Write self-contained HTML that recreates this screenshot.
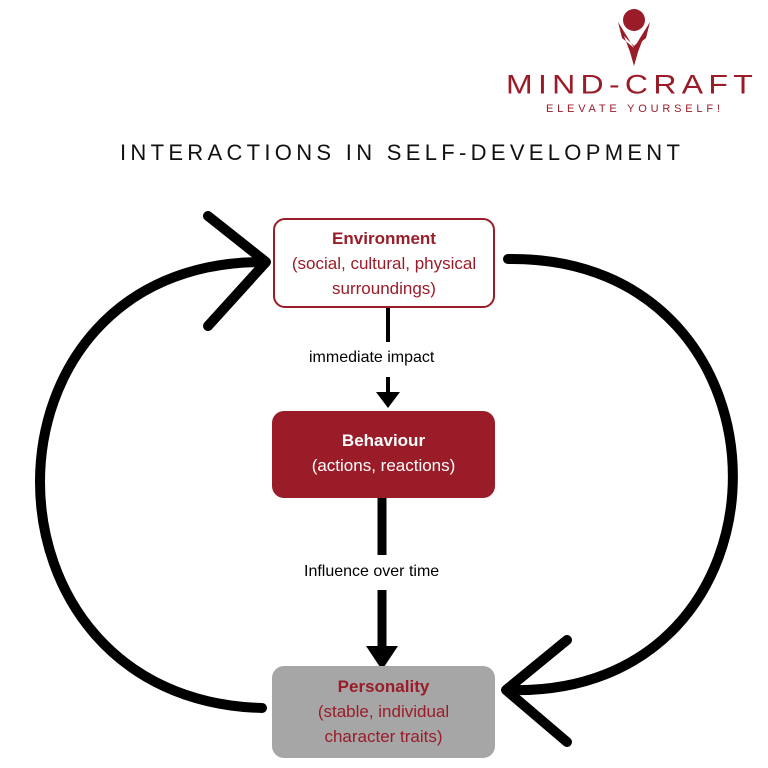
<!DOCTYPE html>
<html><head><meta charset="utf-8"><style>
body{margin:0;width:768px;height:768px;background:#fff;position:relative;overflow:hidden;font-family:"Liberation Sans",sans-serif}
.box{position:absolute;box-sizing:border-box;border-radius:12px;text-align:center;font-size:17px;line-height:25px}
.t{position:absolute;white-space:nowrap}
</style></head><body>
<svg width="768" height="768" style="position:absolute;left:0;top:0">
<g fill="#9a1c28">
<circle cx="634" cy="20" r="11"/>
<path d="M618 22 L622 38 L634 48 L628 38 Z M650 22 L646 38 L634 48 L640 38 Z M624 36 L634 46 L644 36 L638 52 L634 66 L630 52 Z"/>
</g>
<g stroke="#000" stroke-width="10" fill="none" stroke-linecap="round" stroke-linejoin="round">
<path d="M262 708 C -34 700 -34 262 262 262"/>
<path d="M208 216 L266 262 L208 326"/>
<path d="M508 259 C 808 255 808 700 507 690"/>
<path d="M567 640 L506 690 L567 742"/>
</g>
<g stroke="#000" fill="none">
<line x1="388" y1="307" x2="388" y2="342" stroke-width="4"/>
<line x1="388" y1="377" x2="388" y2="395" stroke-width="4"/>
<line x1="382" y1="497" x2="382" y2="555" stroke-width="9"/>
<line x1="382" y1="590" x2="382" y2="650" stroke-width="9"/>
</g>
<path d="M376 392 L400 392 L388 408 Z" fill="#000"/>
<path d="M366 646 L398 646 L382 670 Z" fill="#000"/>
</svg>
<div class="t" style="left:506px;top:66px;font-size:32px;color:#9a1c28;letter-spacing:5.3px;font-weight:300;transform:scaleY(0.85)">MIND-CRAFT</div>
<div class="t" style="left:546px;top:103px;font-size:11px;color:#9a1c28;letter-spacing:3.8px">ELEVATE YOURSELF!</div>
<div class="t" style="left:120px;top:140px;font-size:22px;letter-spacing:4.3px;color:#111">INTERACTIONS IN SELF-DEVELOPMENT</div>
<div class="box" style="left:273px;top:218px;width:222px;height:90px;border:2px solid #9a1c28;color:#9a1c28;padding-top:6px"><b>Environment</b><br>(social, cultural, physical<br>surroundings)</div>
<div class="t" style="left:309px;top:349px;font-size:16px">immediate impact</div>
<div class="box" style="left:272px;top:411px;width:223px;height:87px;background:#9a1c28;color:#fff;padding-top:17px"><b>Behaviour</b><br>(actions, reactions)</div>
<div class="t" style="left:304px;top:563px;font-size:16px">Influence over time</div>
<div class="box" style="left:272px;top:666px;width:223px;height:92px;background:#a6a6a6;color:#9a1c28;padding-top:8px"><b>Personality</b><br>(stable, individual<br>character traits)</div>
</body></html>
